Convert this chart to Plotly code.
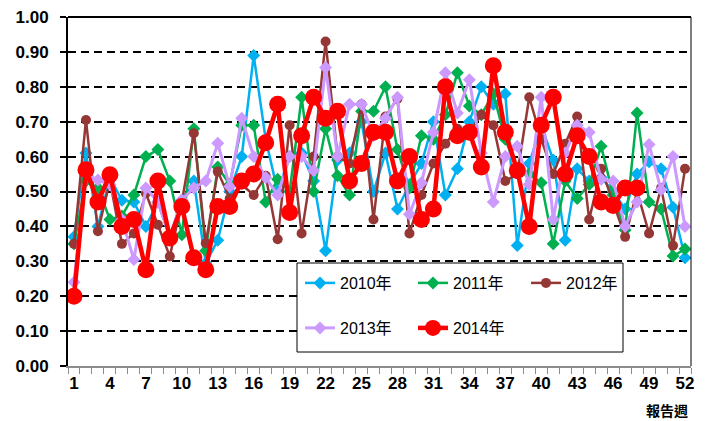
import plotly.graph_objects as go

weeks = list(range(1, 53))
tick_weeks = list(range(1, 53, 3))
y_ticks = [round(i * 0.1, 1) for i in range(11)]

y2010 = [0.37, 0.61, 0.40, 0.54, 0.475, 0.47, 0.40, 0.47, 0.37, 0.475,
         0.53, 0.295, 0.36, 0.50, 0.60, 0.89, 0.65, 0.50, 0.60, 0.61,
         0.53, 0.33, 0.59, 0.61, 0.70, 0.50, 0.61, 0.45, 0.52, 0.58,
         0.70, 0.49, 0.565, 0.70, 0.80, 0.75, 0.78, 0.345, 0.58, 0.69,
         0.59, 0.36, 0.565, 0.53, 0.54, 0.50, 0.45, 0.55, 0.585, 0.565,
         0.455, 0.31]
y2011 = [0.35, 0.53, 0.51, 0.42, 0.43, 0.49, 0.60, 0.62, 0.53, 0.376,
         0.68, 0.33, 0.57, 0.52, 0.69, 0.69, 0.47, 0.535, 0.50, 0.77,
         0.50, 0.68, 0.545, 0.49, 0.73, 0.73, 0.80, 0.62, 0.51, 0.66,
         0.65, 0.72, 0.84, 0.745, 0.72, 0.78, 0.65, 0.56, 0.55, 0.525,
         0.35, 0.53, 0.48, 0.52, 0.63, 0.49, 0.39, 0.725, 0.47, 0.45,
         0.315, 0.335]
y2012 = [0.35, 0.705, 0.386, 0.53, 0.35, 0.38, 0.495, 0.405, 0.314, 0.47,
         0.667, 0.352, 0.557, 0.48, 0.52, 0.49, 0.545, 0.363, 0.69, 0.38,
         0.60, 0.93, 0.60, 0.58, 0.75, 0.42, 0.715, 0.766, 0.38, 0.49,
         0.58, 0.637, 0.68, 0.67, 0.72, 0.69, 0.53, 0.55, 0.77, 0.65,
         0.55, 0.637, 0.715, 0.42, 0.565, 0.47, 0.37, 0.50, 0.38, 0.51,
         0.345, 0.565]
y2013 = [0.24, 0.55, 0.533, 0.52, 0.42, 0.305, 0.51, 0.47, 0.37, 0.476,
         0.51, 0.53, 0.638, 0.514, 0.71, 0.60, 0.54, 0.49, 0.60, 0.60,
         0.56, 0.855, 0.60, 0.75, 0.75, 0.66, 0.71, 0.77, 0.435, 0.525,
         0.67, 0.84, 0.725, 0.82, 0.61, 0.47, 0.60, 0.63, 0.52, 0.77,
         0.42, 0.61, 0.69, 0.67, 0.535, 0.53, 0.40, 0.47, 0.635, 0.505,
         0.60, 0.40]
y2014 = [0.20, 0.562, 0.47, 0.548, 0.40, 0.42, 0.276, 0.53, 0.367, 0.457,
         0.31, 0.276, 0.457, 0.457, 0.53, 0.55, 0.64, 0.75, 0.44, 0.66,
         0.77, 0.71, 0.73, 0.53, 0.58, 0.67, 0.67, 0.53, 0.60, 0.42,
         0.45, 0.80, 0.66, 0.67, 0.57, 0.86, 0.67, 0.56, 0.40, 0.69,
         0.77, 0.55, 0.66, 0.60, 0.47, 0.46, 0.51, 0.51, None, None,
         None, None]

series = [
    ("2010年", y2010), ("2011年", y2011), ("2012年", y2012),
    ("2013年", y2013), ("2014年", y2014),
]
styles = [
    dict(color="#00B0F0", symbol="diamond", size=10, width=2.5, legend="legend"),
    dict(color="#00B050", symbol="diamond", size=10, width=2.5, legend="legend"),
    dict(color="#953735", symbol="circle", size=10, width=2.5, legend="legend"),
    dict(color="#CC99FF", symbol="diamond", size=10, width=3, legend="legend2"),
    dict(color="#FF0000", symbol="circle", size=17, width=4.5, legend="legend2"),
]

fig = go.Figure()
for (name, vals), st in zip(series, styles):
    fig.add_trace(go.Scatter(
        x=weeks, y=vals, name=name, mode="lines+markers",
        line=dict(color=st["color"], width=st["width"]),
        marker=dict(color=st["color"], symbol=st["symbol"], size=st["size"],
                    line=dict(width=0)),
        legend=st["legend"], connectgaps=False,
    ))

# page body adds an 8px offset; layout below is in screenshot pixels
OFF = 8
W, H = 710 - OFF, 421 - OFF
L, T = 68 - OFF, 17 - OFF
R = W - (691 - OFF)
B = H - (366 - OFF)
pw, ph = W - L - R, H - T - B

def px_x(x):
    return (x - OFF - L) / pw

def px_y(y):
    return (H - B - (y - OFF)) / ph

tickfont = dict(family="Liberation Sans Narrow, Arial Narrow, Liberation Sans, sans-serif",
                size=17, color="#000000", weight="bold")
legfont = dict(family="Liberation Sans, Noto Sans CJK JP, sans-serif", size=16, color="#000000")

fig.update_layout(
    width=W, height=H,
    margin=dict(l=L, r=R, t=T, b=B, pad=0, autoexpand=False),
    paper_bgcolor="white", plot_bgcolor="white",
    xaxis=dict(
        range=[0.5, 52.5], tickmode="array", tickvals=tick_weeks,
        ticktext=[str(v) for v in tick_weeks], ticks="", showgrid=False,
        zeroline=False, showline=True, linecolor="#8C8C8C", linewidth=2,
        tickfont=tickfont, ticklabelstandoff=1, ticklabeloverflow="allow",
        automargin=False,
        minor=dict(tickmode="linear", tick0=0.5, dtick=1, ticks="outside",
                   ticklen=6, tickcolor="#8C8C8C", tickwidth=1, showgrid=False),
    ),
    yaxis=dict(
        range=[0, 1], tickmode="array", tickvals=y_ticks,
        ticktext=[f"{v:.2f}" for v in y_ticks],
        ticks="outside", ticklen=6, tickcolor="#000000", tickwidth=1.5,
        showline=True, linecolor="#000000", linewidth=2, zeroline=False,
        showgrid=True, gridcolor="#000000", gridwidth=1.5, griddash="8px,5px",
        tickfont=tickfont, ticklabelstandoff=8, ticklabeloverflow="allow",
        automargin=False,
    ),
    legend=dict(orientation="h", x=px_x(300), y=px_y(283), xanchor="left",
                yanchor="middle", bgcolor="rgba(0,0,0,0)", borderwidth=0,
                font=legfont, entrywidth=68, entrywidthmode="pixels"),
    legend2=dict(orientation="h", x=px_x(300), y=px_y(328), xanchor="left",
                 yanchor="middle", bgcolor="rgba(0,0,0,0)", borderwidth=0,
                 font=legfont, entrywidth=68, entrywidthmode="pixels"),
    shapes=[
        dict(type="rect", xref="paper", yref="paper",
             x0=px_x(297), x1=px_x(623), y0=px_y(352), y1=px_y(263),
             fillcolor="white", line=dict(color="#000000", width=1), layer="above"),
        dict(type="line", xref="paper", yref="paper", x0=0, x1=1, y0=1, y1=1,
             line=dict(color="#000000", width=2), layer="above"),
        dict(type="line", xref="paper", yref="paper", x0=1, x1=1, y0=0, y1=1,
             line=dict(color="#000000", width=1), layer="above"),
    ],
    annotations=[
        dict(text="報告週", xref="paper", yref="paper", x=px_x(690), y=px_y(410),
             xanchor="right", yanchor="middle", showarrow=False,
             font=dict(family="Noto Sans CJK TC, sans-serif", size=14,
                       color="#000000", weight="bold")),
    ],
    showlegend=True,
)

fig.write_html("out.html")
